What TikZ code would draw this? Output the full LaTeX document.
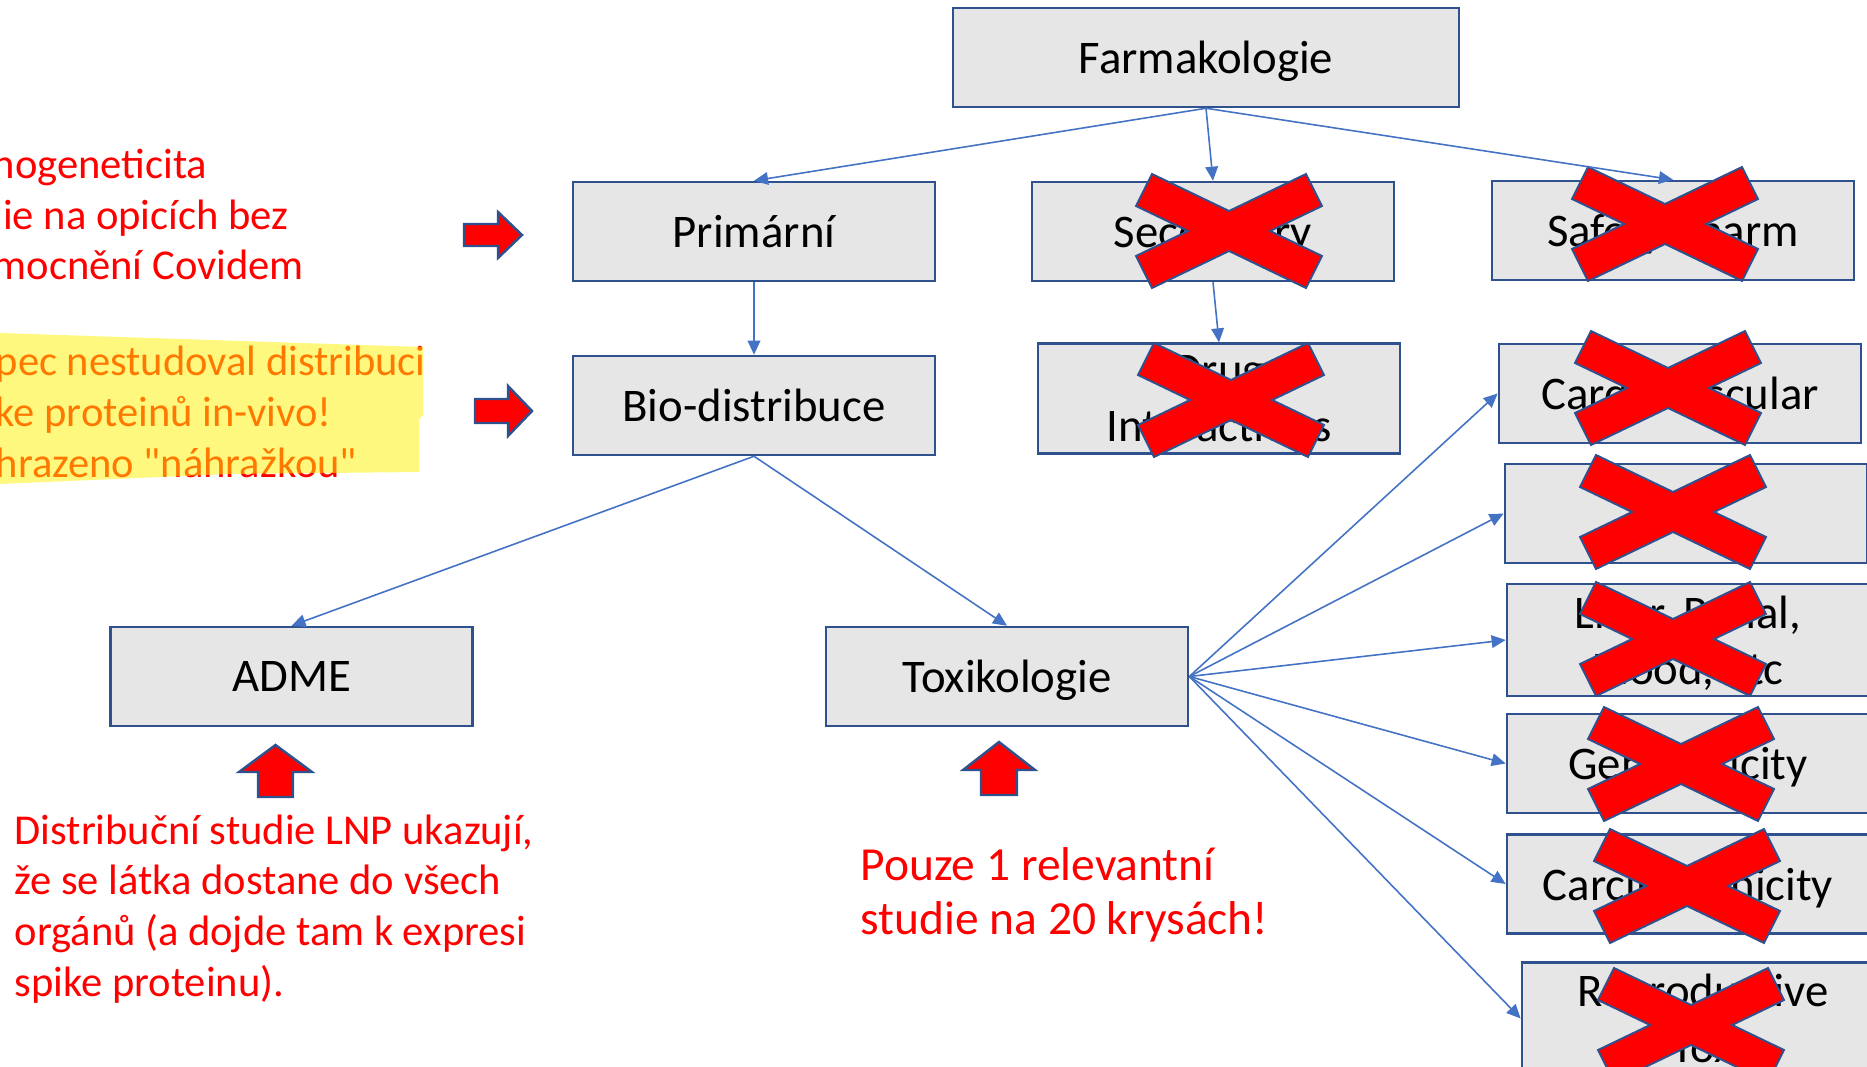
\documentclass[tikz,border=0pt]{standalone}
\usepackage{fontspec}
\setmainfont{Carlito}[Ligatures=TeXOff]
\usetikzlibrary{arrows.meta}

\definecolor{boxfill}{HTML}{E7E6E6}
\definecolor{boxline}{HTML}{2F528F}
\definecolor{linkblue}{HTML}{4472C4}

\newcommand{\boxfont}{\fontsize{13.3}{16}\selectfont}
\newcommand{\notefont}{\fontsize{12.1}{14.4}\selectfont}

\tikzset{
  box/.style={draw=boxline, fill=boxfill, line width=0.7pt, minimum width=3.62cm,
    minimum height=0.99cm, align=center, text depth=0pt, font=\boxfont},
  link/.style={draw=linkblue, line width=0.45pt, -{Triangle[length=4pt,width=3.6pt]}},
  crossmark/.style={fill=red, draw=boxline, line width=0.55pt},
  blockarrow/.style={fill=red, draw=boxline, line width=0.7pt},
  note/.style={text=red, align=left, anchor=base west, inner sep=0pt, font=\notefont}
}

% red X over a crossed-out study
\newcommand{\redcross}[1]{%
  \draw[crossmark, shift={(#1)}] (-77,-57) -- (0,-20) -- (77,-57) -- (93,-25) -- (41,0)
    -- (93,25) -- (77,57) -- (0,20) -- (-77,57) -- (-93,25) -- (-41,0) -- (-93,-25) -- cycle;}

\begin{document}
\begin{tikzpicture}[x=0.01cm, y=-0.01cm]
\useasboundingbox (0,0) rectangle (1867,1067);
\clip (0,0) rectangle (1867,1067);

% boxes
\node[box, minimum width=5.06cm] (farm) at (1206,57.5) {Farmakologie};
\node[box] (prim) at (754,231.5) {Primární};
\node[box] (sec) at (1213,231.5) {Secondary};
\node[box] (safe) at (1673,230.5) {Safety Pharm};
\node[box] (bio) at (754,405.5) {Bio-distribuce};
\node[box] (drug) at (1219,398.5) {Drug\\Interactions};
\node[box] (cardio) at (1680,393.5) {Cardiovascular};
\node[box] (blank) at (1686,513.5) {};
\node[box] (liver) at (1688,640) {Liver, Renal,\\Blood, etc};
\node[box] (geno) at (1688,763.5) {Genotoxicity};
\node[box] (carc) at (1688,884) {Carcinogenicity};
\node[box] (repro) at (1703,1018.5) {Reproductive\\Tox};
\node[box] (adme) at (291.5,676.5) {ADME};
\node[box] (tox) at (1007,676.5) {Toxikologie};

% crossed out
\foreach \c in {{1229,231},{1231,400},{1665,224},{1668,388},{1673,512},{1673,639},{1681,764},{1687,886},{1691,1025}}
  \redcross{\c};

% links
\draw[link] (farm.south) -- (prim.north);
\draw[link] (farm.south) -- (sec.north);
\draw[link] (farm.south) -- (safe.north);
\draw[link] (prim.south) -- (bio.north);
\draw[link] (sec.south) -- (drug.north);
\draw[link] (bio.south) -- (adme.north);
\draw[link] (bio.south) -- (tox.north);
\foreach \t in {cardio,blank,liver,geno,carc,repro}
  \draw[link] (tox.east) -- (\t.west);

% red block arrows
\draw[blockarrow] (464,224) -- (498,224) -- (498,212) -- (522,235) -- (498,258) -- (498,246) -- (464,246) -- cycle;
\draw[blockarrow] (475,399) -- (508,399) -- (508,386) -- (532,411) -- (508,436) -- (508,423) -- (475,423) -- cycle;
\draw[blockarrow] (258,797) -- (258,772) -- (239,772) -- (275.5,745) -- (312,772) -- (293,772) -- (293,797) -- cycle;
\draw[blockarrow] (981,795) -- (981,770) -- (963,770) -- (999,742) -- (1035,770) -- (1017,770) -- (1017,795) -- cycle;

% notes (anchored at the baseline of the last line)
\node[note] (imun) at (-1,280) {\hspace*{-2pt}nogeneticita\\\hspace*{1pt}ie na opicích bez\\\hspace*{-2pt}mocnění Covidem};
\node[note] (distr) at (-5,477) {pec nestudoval distribuci\\ke proteinů in-vivo!\\hrazeno "náhražkou"};
\fill[yellow, fill opacity=0.5] (0,333) -- (423,347) -- (423,415) -- (419,420) -- (419,472) -- (230,474) -- (0,484) -- cycle;
\node[note] (lnp) at (14,996) {Distribuční studie LNP ukazují,\\že se látka dostane do všech\\orgánů (a dojde tam k expresi\\spike proteinu).};
\node[note, font=\fontsize{13.5}{15.1}\selectfont] (rats) at (860,934) {Pouze 1 relevantní\\studie na 20 krysách!};
\end{tikzpicture}
\end{document}
